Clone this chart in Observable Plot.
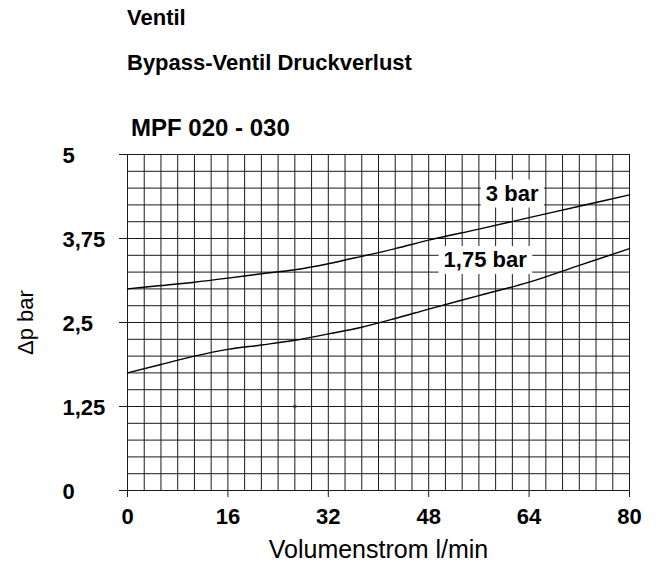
<!DOCTYPE html>
<html><head><meta charset="utf-8">
<script src="https://cdn.jsdelivr.net/npm/d3@7"></script>
<script src="https://cdn.jsdelivr.net/npm/@observablehq/plot@0.6"></script>
<style>
body{margin:0;background:#fff;font-family:"Liberation Sans",Arial,sans-serif;color:#000;}
#header{position:relative;width:660px;height:140px;}
#header div{position:absolute;left:127px;font-weight:bold;font-size:22px;line-height:22px;white-space:nowrap;}
#chart svg{display:block}
</style></head><body>
<div id="header">
 <div style="top:7px">Ventil</div>
 <div style="top:52px">Bypass-Ventil Druckverlust</div>
 <div style="top:116px;left:131px;font-size:24px;line-height:24px">MPF 020 - 030</div>
</div>
<div id="chart"></div>
<script>
// Data
const flow     = [0, 5.33, 10.67, 16, 21.33, 26.67, 32, 37.33, 42.67, 48, 56, 64, 72, 80];
const dp3bar   = [3.0, 3.05, 3.10, 3.16, 3.225, 3.285, 3.375, 3.485, 3.60, 3.725, 3.89, 4.06, 4.23, 4.40];
const dp175bar = [1.75, 1.875, 2.0, 2.10, 2.165, 2.235, 2.33, 2.43, 2.56, 2.70, 2.90, 3.10, 3.35, 3.60];
const seriesNames = ["3 bar", "1,75 bar"];
const labelX = [61.3, 57.0];
const labelY = [4.42, 3.43];
const xTicks = [0, 16, 32, 48, 64, 80];
const xTickLabels = ["0", "16", "32", "48", "64", "80"];
const yTicks = [0, 1.25, 2.5, 3.75, 5];
const yTickLabels = ["0", "1,25", "2,5", "3,75", "5"];
const markX = [26.67];
const markY = [1.25];
const xAxisLabel = "Volumenstrom l/min";
const yAxisLabel = "\u0394p bar";

const xGrid = d3.range(0, 31).map(i => i * 80 / 30);
const yGrid = d3.range(0, 21).map(i => i * 0.25);

const lines = [
  ...flow.map((x, i) => ({series: seriesNames[0], x, y: dp3bar[i]})),
  ...flow.map((x, i) => ({series: seriesNames[1], x, y: dp175bar[i]}))
];
const labels = seriesNames.map((s, i) => ({text: s, x: labelX[i], y: labelY[i]}));

const chart = Plot.plot({
  width: 660, height: 426,
  marginLeft: 127, marginRight: 31, marginTop: 14, marginBottom: 76,
  style: {fontFamily: "Liberation Sans, Arial, sans-serif", color: "#000", background: "#fff"},
  x: {domain: [0, 80]},
  y: {domain: [0, 5]},
  marks: [
    Plot.gridX(xGrid, {stroke: "#1a1a1a", strokeOpacity: 1, strokeWidth: 1}),
    Plot.gridY(yGrid, {stroke: "#1a1a1a", strokeOpacity: 1, strokeWidth: 1}),
    Plot.frame({stroke: "#1a1a1a"}),
    Plot.axisX(xTicks, {tickSize: 7, tickFormat: () => "", label: null, stroke: "#1a1a1a"}),
    Plot.axisY(yTicks, {tickSize: 8, tickFormat: () => "", label: null, stroke: "#1a1a1a"}),
    Plot.text(xTicks, {x: d => d, text: (d, i) => xTickLabels[i], frameAnchor: "bottom", lineAnchor: "bottom", dy: 33, fontSize: 22, fontWeight: "bold"}),
    Plot.text(yTicks, {y: d => d, text: (d, i) => yTickLabels[i], frameAnchor: "left", textAnchor: "start", dx: -65, dy: 1, fontSize: 22, fontWeight: "bold"}),
    Plot.text([yAxisLabel], {text: d => d, frameAnchor: "left", dx: -102, rotate: -90, fontSize: 22, textAnchor: "middle", lineAnchor: "middle"}),
    Plot.text([xAxisLabel], {text: d => d, frameAnchor: "bottom", lineAnchor: "bottom", dy: 67, fontSize: 25}),
    Plot.dot(markX.map((x, i) => ({x, y: markY[i]})), {x: "x", y: "y", r: 1.5, stroke: "#444", fill: "none", strokeWidth: 1}),
    Plot.line(lines, {x: "x", y: "y", z: "series", curve: "monotone-x", stroke: "#000", strokeWidth: 1.4}),
    Plot.text(labels, {x: "x", y: "y", text: "text", fontSize: 22, fontWeight: "bold"})
  ]
});
document.getElementById("chart").append(chart);

// white boxes behind the series labels
Array.from(chart.querySelectorAll("text"))
  .filter(t => seriesNames.includes(t.textContent))
  .forEach(t => {
    const b = t.getBBox();
    const r = document.createElementNS("http://www.w3.org/2000/svg", "rect");
    r.setAttribute("x", b.x - 5);
    r.setAttribute("y", b.y - 1);
    r.setAttribute("width", b.width + 10);
    r.setAttribute("height", b.height + 3);
    r.setAttribute("fill", "#fff");
    const tr = t.getAttribute("transform");
    if (tr) r.setAttribute("transform", tr);
    t.parentNode.insertBefore(r, t);
  });
</script>
</body></html>
